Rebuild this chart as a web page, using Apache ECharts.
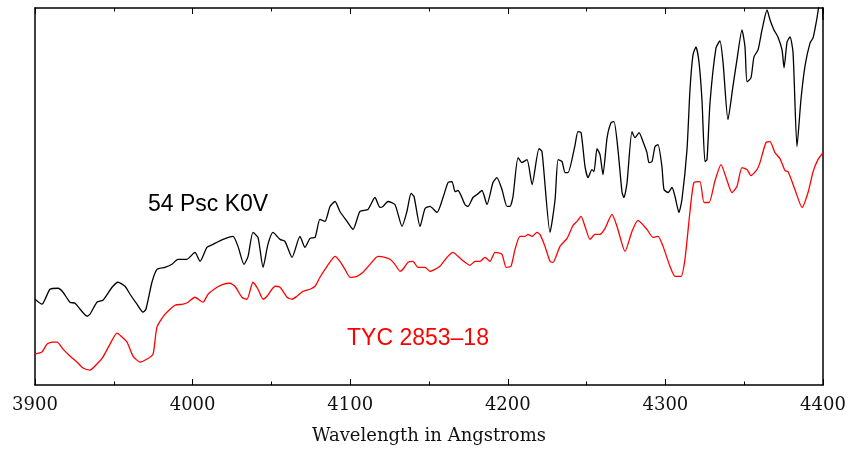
<!DOCTYPE html>
<html>
<head>
<meta charset="utf-8">
<script src="https://cdn.jsdelivr.net/npm/echarts@6/dist/echarts.min.js"></script>
<style>
  html, body { margin: 0; padding: 0; background: #fff; }
  #chart { width: 851px; height: 450px; }
</style>
</head>
<body>
<div id="chart"></div>
<script>
// x ticks (Angstroms)
const xTicks = [3900, 4000, 4100, 4200, 4300, 4400];
const xTitle = "Wavelength in Angstroms";

// series names, as written on the plot
const blackName = "54 Psc K0V";
const redName = "TYC 2853\u201318";

// [wavelength, relative flux] (arbitrary flux units)
const psc54 = [
  [3900.0, 86], [3904.4, 81], [3909.5, 96], [3914.6, 97], [3917.8, 93],
  [3922.2, 83], [3925.4, 82], [3928.6, 76], [3933.0, 69], [3934.9, 71],
  [3939.3, 83], [3943.1, 85], [3948.9, 98], [3952.7, 103], [3957.1, 99],
  [3960.3, 91], [3964.7, 81], [3968.5, 73], [3970.4, 76], [3974.2, 103],
  [3977.4, 116], [3982.5, 118], [3986.9, 121], [3990.7, 126], [3996.4, 126],
  [4001.5, 133], [4004.7, 124], [4009.1, 138], [4012.9, 141], [4019.3, 146],
  [4025.6, 149], [4028.8, 139], [4032.6, 121], [4035.2, 129], [4038.3, 153],
  [4041.5, 148], [4044.7, 118], [4047.8, 141], [4051.0, 153], [4055.5, 146],
  [4058.6, 144], [4063.1, 128], [4068.1, 149], [4071.3, 138], [4074.5, 147],
  [4077.7, 148], [4080.8, 166], [4084.0, 164], [4087.2, 179], [4090.4, 184],
  [4093.5, 174], [4098.0, 164], [4101.8, 156], [4106.2, 174], [4111.3, 176],
  [4115.7, 188], [4118.9, 178], [4120.8, 179], [4124.0, 184], [4128.4, 181],
  [4132.9, 159], [4136.0, 174], [4138.6, 192], [4140.5, 189], [4144.3, 159],
  [4147.5, 177], [4150.6, 179], [4155.1, 173], [4158.9, 188], [4162.1, 203],
  [4164.6, 204], [4166.5, 194], [4168.4, 195], [4172.8, 181], [4174.7, 179],
  [4177.9, 188], [4180.5, 191], [4183.6, 195], [4186.8, 181], [4190.6, 203],
  [4193.1, 208], [4196.3, 196], [4199.5, 179], [4201.4, 179], [4203.3, 189],
  [4206.5, 228], [4209.0, 223], [4212.2, 226], [4215.4, 201], [4219.8, 237],
  [4221.7, 234], [4226.8, 153], [4230.0, 186], [4231.9, 226], [4234.4, 224],
  [4236.3, 213], [4238.2, 213], [4242.6, 240], [4244.5, 254], [4246.5, 253],
  [4249.0, 219], [4250.9, 208], [4253.4, 216], [4254.7, 214], [4256.6, 237],
  [4258.5, 231], [4260.4, 211], [4263.0, 248], [4265.5, 263], [4267.4, 264],
  [4269.9, 236], [4272.5, 193], [4273.7, 188], [4275.6, 202], [4278.8, 254],
  [4280.7, 248], [4283.3, 253], [4285.8, 244], [4288.3, 233], [4289.6, 223],
  [4291.5, 224], [4293.4, 239], [4295.3, 241], [4297.8, 219], [4299.1, 196],
  [4301.7, 193], [4304.2, 198], [4306.1, 189], [4308.6, 173], [4310.5, 186],
  [4313.7, 236], [4315.6, 296], [4317.5, 331], [4319.4, 339], [4321.3, 324],
  [4323.2, 286], [4325.1, 224], [4326.4, 226], [4328.3, 283], [4332.1, 338],
  [4334.6, 345], [4336.6, 323], [4339.7, 266], [4342.9, 300], [4345.4, 326],
  [4348.6, 356], [4350.5, 339], [4351.8, 304], [4354.3, 308], [4356.2, 329],
  [4358.8, 336], [4361.3, 356], [4364.5, 376], [4366.4, 366], [4368.9, 356],
  [4371.4, 349], [4374.0, 336], [4375.3, 318], [4377.2, 344], [4379.1, 349],
  [4381.0, 333], [4383.5, 239], [4386.0, 286], [4388.6, 320], [4391.8, 343],
  [4393.7, 348], [4396.2, 368], [4397.5, 380], [4399.4, 382], [4400.0, 366],
];

const tyc2853 = [
  [3900.0, 31], [3904.4, 33], [3907.6, 41], [3910.8, 43], [3914.0, 43],
  [3917.8, 36], [3922.2, 29], [3926.6, 23], [3930.5, 17], [3934.9, 15],
  [3939.3, 21], [3943.1, 28], [3947.6, 41], [3952.0, 52], [3953.9, 50],
  [3958.4, 43], [3962.2, 29], [3966.6, 23], [3971.1, 26], [3974.9, 31],
  [3977.4, 58], [3982.5, 71], [3988.8, 80], [3993.9, 81], [3997.1, 83],
  [4001.5, 88], [4006.6, 83], [4009.8, 91], [4015.5, 98], [4019.3, 101],
  [4023.7, 102], [4026.9, 99], [4031.3, 88], [4034.5, 86], [4038.3, 103],
  [4041.5, 96], [4044.7, 86], [4047.2, 89], [4052.3, 99], [4055.5, 98],
  [4059.9, 88], [4063.1, 86], [4066.2, 89], [4070.1, 94], [4074.5, 96],
  [4077.7, 99], [4080.8, 108], [4085.3, 119], [4090.4, 129], [4093.5, 124],
  [4096.7, 116], [4099.9, 108], [4104.3, 109], [4108.1, 113], [4112.6, 121],
  [4117.6, 129], [4122.1, 128], [4125.3, 126], [4128.4, 121], [4131.6, 114],
  [4133.5, 116], [4136.7, 123], [4139.8, 124], [4143.0, 118], [4147.5, 118],
  [4150.6, 114], [4153.8, 116], [4157.0, 119], [4161.4, 128], [4165.2, 133],
  [4168.4, 129], [4172.8, 123], [4176.0, 120], [4179.2, 124], [4182.4, 124],
  [4185.5, 128], [4188.7, 124], [4191.9, 133], [4196.3, 131], [4198.9, 118],
  [4202.0, 119], [4204.6, 136], [4207.7, 149], [4210.9, 149], [4212.8, 151],
  [4215.4, 149], [4218.5, 153], [4220.4, 151], [4223.6, 139], [4226.8, 124],
  [4228.7, 123], [4233.1, 139], [4237.6, 147], [4241.4, 160], [4243.9, 164],
  [4246.5, 169], [4249.0, 159], [4252.2, 146], [4255.3, 151], [4258.5, 151],
  [4261.7, 157], [4266.1, 171], [4269.3, 159], [4274.4, 134], [4278.8, 154],
  [4282.6, 165], [4288.3, 156], [4292.1, 148], [4295.3, 149], [4298.5, 139],
  [4302.9, 119], [4306.1, 109], [4309.9, 109], [4312.4, 126], [4315.6, 174],
  [4318.1, 203], [4321.9, 204], [4324.5, 183], [4327.7, 183], [4331.5, 205],
  [4335.3, 221], [4339.1, 205], [4342.2, 193], [4345.4, 199], [4348.6, 218],
  [4351.8, 216], [4354.3, 210], [4358.1, 216], [4360.0, 223], [4363.8, 243],
  [4366.4, 244], [4369.5, 233], [4372.7, 227], [4375.9, 215], [4377.8, 214],
  [4382.2, 196], [4386.7, 178], [4390.5, 193], [4393.7, 214], [4396.8, 226],
  [4400.0, 233],
];

// where the two star names sit, in data units [wavelength, flux]
const blackNameAt = [4009.8, 181];
const redNameAt = [4143, 46];

const chart = echarts.init(document.getElementById("chart"), null, { renderer: "canvas" });

const frame = { show: true, onZero: false, lineStyle: { color: "#000", width: 1.5 } };
const ticks = { show: true, inside: true, length: 6, lineStyle: { color: "#000", width: 1 } };
const minor = { show: true, splitNumber: 2, length: 3.5, lineStyle: { color: "#000", width: 1 } };

function nameTag(text, at, color) {
  return {
    symbol: "circle",
    symbolSize: 1,
    itemStyle: { color: "rgba(0,0,0,0)" },
    data: [{ coord: at }],
    label: {
      show: true,
      position: "inside",
      formatter: text,
      fontFamily: "Liberation Sans",
      fontSize: 23,
      color: color,
    },
  };
}

chart.setOption({
  animation: false,
  backgroundColor: "#fff",
  grid: { left: 35, right: 28, top: 8, bottom: 64, containLabel: false },
  xAxis: [
    {
      type: "value",
      min: xTicks[0],
      max: xTicks[xTicks.length - 1],
      interval: 100,
      position: "bottom",
      name: xTitle,
      nameLocation: "middle",
      nameGap: 42,
      nameTextStyle: { fontFamily: "DejaVu Serif", fontSize: 18, color: "#111" },
      axisLine: frame,
      axisTick: ticks,
      minorTick: minor,
      splitLine: { show: false },
      axisLabel: {
        margin: 11,
        fontFamily: "DejaVu Serif",
        fontSize: 18,
        color: "#111",
        showMinLabel: true,
        showMaxLabel: true,
        formatter: (v) => String(v),
      },
    },
    {
      type: "value",
      min: xTicks[0],
      max: xTicks[xTicks.length - 1],
      interval: 100,
      position: "top",
      axisLine: frame,
      axisTick: ticks,
      minorTick: minor,
      splitLine: { show: false },
      axisLabel: { show: false },
    },
  ],
  yAxis: [
    {
      type: "value",
      min: 0,
      max: 378,
      position: "left",
      axisLine: frame,
      axisTick: { show: false },
      axisLabel: { show: false },
      splitLine: { show: false },
    },
    {
      type: "value",
      min: 0,
      max: 378,
      position: "right",
      axisLine: frame,
      axisTick: { show: false },
      axisLabel: { show: false },
      splitLine: { show: false },
    },
  ],
  series: [
    {
      name: blackName,
      type: "line",
      data: psc54,
      showSymbol: false,
      smooth: 0.2,
      clip: true,
      lineStyle: { color: "#000", width: 1.3 },
      markPoint: nameTag(blackName, blackNameAt, "#000"),
    },
    {
      name: redName,
      type: "line",
      data: tyc2853,
      showSymbol: false,
      smooth: 0.2,
      clip: true,
      lineStyle: { color: "#ff0000", width: 1.3 },
      markPoint: nameTag(redName, redNameAt, "#ff0000"),
    },
  ],
});
</script>
</body>
</html>
